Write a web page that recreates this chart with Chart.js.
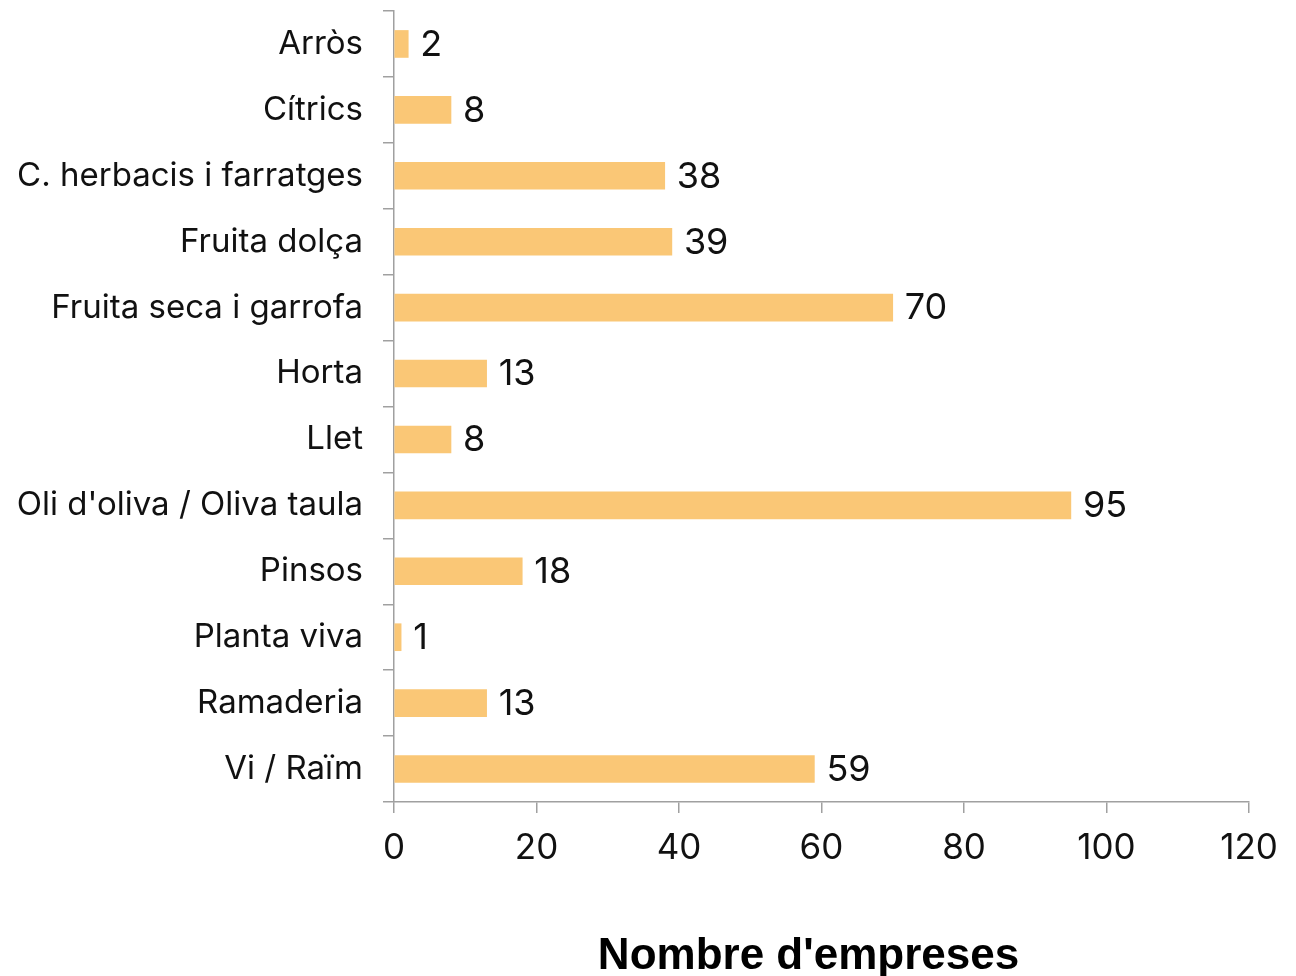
<!DOCTYPE html>
<html>
<head>
<meta charset="utf-8">
<script src="https://cdn.jsdelivr.net/npm/chart.js@4/dist/chart.umd.min.js"></script>
<style>
	html, body { margin: 0; padding: 0; background: #fff; }
	#wrap { width: 1296px; height: 976px; }
</style>
</head>
<body>
<div id="wrap"><canvas id="myChart"></canvas></div>
<script>
var categories = ["Arròs", "Cítrics", "C. herbacis i farratges", "Fruita dolça", "Fruita seca i garrofa", "Horta", "Llet", "Oli d'oliva / Oliva taula", "Pinsos", "Planta viva", "Ramaderia", "Vi / Raïm"];
var empreses = [2, 8, 38, 39, 70, 13, 8, 95, 18, 1, 13, 59];
var xTicks = [0, 20, 40, 60, 80, 100, 120];
var axisTitle = "Nombre d'empreses";

// value labels next to each bar + the axis title under the chart
var valueLabels = {
	id: "valueLabels",
	afterDatasetsDraw: function (chart) {
		var ctx = chart.ctx;
		var meta = chart.getDatasetMeta(0);
		ctx.save();
		ctx.font = "36px Inter";
		ctx.fillStyle = "#111";
		ctx.textAlign = "left";
		ctx.textBaseline = "middle";
		meta.data.forEach(function (bar, i) {
			ctx.fillText(String(empreses[i]), bar.x + 12, bar.y + 1);
		});

		var area = chart.chartArea;
		ctx.font = "bold 44px 'Liberation Sans'";
		ctx.fillStyle = "#000";
		ctx.textAlign = "center";
		ctx.fillText(axisTitle, (area.left + area.right) / 2 - 13, 957);
		ctx.restore();
	}
};

var ctx = document.getElementById("myChart").getContext("2d");
var myChart = new Chart(ctx, {
	type: "bar",
	data: {
		labels: categories,
		datasets: [
			{
				data: empreses,
				backgroundColor: "#FAC776",
				borderWidth: 0,
				barThickness: 27,
			},
		],
	},
	options: {
		indexAxis: "y",
		responsive: true,
		maintainAspectRatio: false,
		animation: false,
		layout: {
			padding: { left: 0, right: 47, top: 11, bottom: 93 },
		},
		plugins: {
			legend: { display: false },
			tooltip: { enabled: false },
		},
		scales: {
			x: {
				min: 0,
				max: 120,
				afterBuildTicks: function (axis) {
					axis.ticks = xTicks.map(function (v) { return { value: v }; });
				},
				afterFit: function (axis) {
					axis.paddingLeft = 0;
					axis.paddingRight = 0;
				},
				grid: {
					drawOnChartArea: false,
					drawTicks: true,
					tickLength: 11,
					color: "#a0a0a0",
					lineWidth: 1.5,
				},
				border: { color: "#a0a0a0", width: 1.5 },
				ticks: {
					color: "#111",
					font: { family: "Inter", size: 35 },
					padding: 14,
					maxRotation: 0,
				},
			},
			y: {
				offset: true,
				afterFit: function (axis) {
					axis.width = 394;
					axis.paddingTop = 0;
					axis.paddingBottom = 0;
				},
				grid: {
					offset: true,
					drawOnChartArea: false,
					drawTicks: true,
					tickLength: 11,
					color: "#a0a0a0",
					lineWidth: 1.5,
				},
				border: { color: "#a0a0a0", width: 1.5 },
				ticks: {
					color: "#111",
					font: { family: "Inter", size: 33 },
					padding: 20,
				},
			},
		},
	},
	plugins: [valueLabels],
});
</script>
</body>
</html>
